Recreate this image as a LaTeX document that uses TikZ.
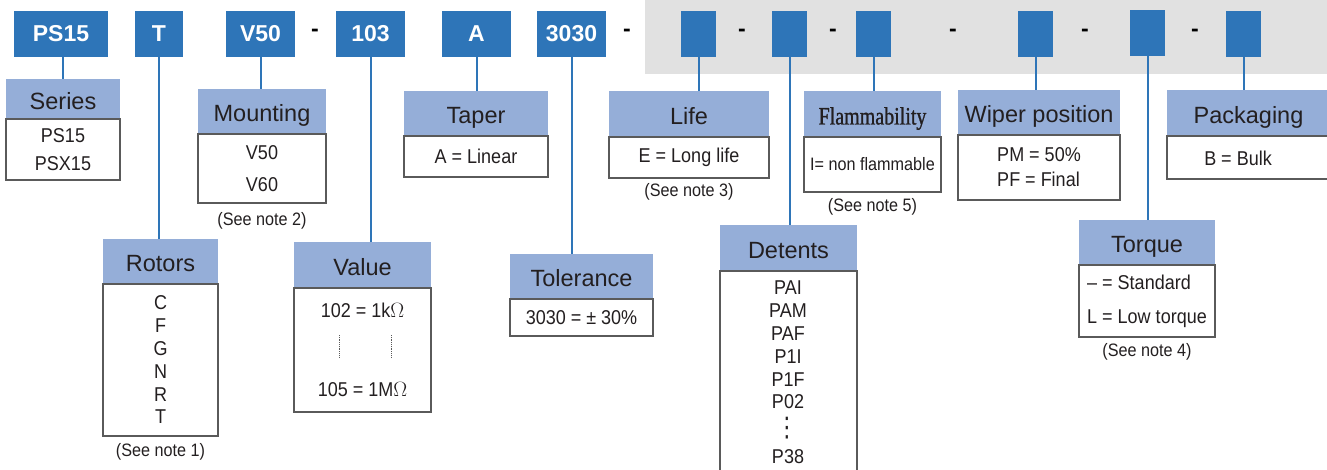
\documentclass[tikz,border=0pt]{standalone}
\usepackage{fontspec}
\setmainfont{Liberation Sans}
\newfontfamily\narrowfont[FakeStretch=0.9]{Liberation Sans}
\newfontfamily\flamfont[FakeStretch=0.8,FakeBold=1]{Liberation Serif}
\newfontfamily\symfont[FakeStretch=0.8]{DejaVu Sans}
\usetikzlibrary{positioning}
\definecolor{codeblue}{HTML}{2E75B8}
\definecolor{headblue}{HTML}{95AED8}
\definecolor{bandgray}{HTML}{E1E1E1}
\definecolor{boxgray}{HTML}{5A5A5A}
\definecolor{inkgray}{HTML}{231F20}

\begin{document}
\begin{tikzpicture}[x=1pt,y=-1pt,
	codebox/.style={fill=codeblue,text=white,font=\bfseries\fontsize{23}{23}\selectfont,minimum height=46pt,inner sep=0pt,outer sep=0pt},
	sepmark/.style={text=black,font=\bfseries\fontsize{23}{23}\selectfont,inner sep=0pt,anchor=base},
	headbox/.style={fill=headblue,text=inkgray,font=\fontsize{23.5}{23.5}\selectfont,minimum height=45pt,inner sep=0pt,outer sep=0pt,text height=21pt,text depth=0pt},
	bodybox/.style={draw=boxgray,line width=1.2pt,fill=white,text=inkgray,font=\narrowfont\fontsize{20}{22.8}\selectfont,align=center,inner sep=0pt,outer sep=0pt},
	bodytext/.style={text=inkgray,font=\narrowfont\fontsize{20}{22.8}\selectfont,align=center,inner sep=0pt},
	notetext/.style={text=inkgray,font=\narrowfont\fontsize{18}{18}\selectfont,inner sep=0pt},
	linkline/.style={draw=codeblue,line width=2pt}]
	\useasboundingbox (0,0) rectangle (1327,470);
	\fill[bandgray] (645,0) rectangle (1327,74);

	% part number
	\node[codebox,minimum width=94pt] (ps) at (61,34) {PS15};
	\node[codebox,minimum width=48pt] (t) at (159,34) {T};
	\node[codebox,minimum width=69pt] (v) at (260.5,34) {V50};
	\node[codebox,minimum width=69pt] (ohm) at (370.5,34) {103};
	\node[codebox,minimum width=69pt] (a) at (476.5,34) {A};
	\node[codebox,minimum width=69pt] (tol) at (571.5,34) {3030};
	\foreach \n/\x in {lifebox/698.5,detbox/789.5,flambox/873.5,wipbox/1035.5,packbox/1243.5}
		\node[codebox,minimum width=35pt] (\n) at (\x,34) {};
	\node[codebox,minimum width=35pt] (torbox) at (1147.5,33) {};
	\foreach \x [count=\i] in {315,627,742,833,953,1085,1195}
		\node[sepmark] (sep\i) at (\x,37) {-};

	% fields
	\node[headbox,minimum width=114pt,minimum height=40pt] (series) at (63,99) {Series};
	\node[bodybox,minimum width=114pt,minimum height=61pt,below=0pt of series] (seriesbody) {PS15\\[5pt]PSX15};

	\node[headbox,minimum width=115pt] (rotors) at (160.5,261.5) {Rotors};
	\node[bodybox,minimum width=115pt,minimum height=152pt,below=0pt of rotors] (rotorsbody) {C\\F\\G\\N\\R\\T};
	\node[notetext,below=7pt of rotorsbody] (note1) {(See note 1)};

	\node[headbox,minimum width=128pt] (mount) at (262,111.5) {Mounting};
	\node[bodybox,minimum width=128pt,minimum height=69pt,below=0pt of mount] (mountbody) {V50\\[9pt]V60};
	\node[notetext,below=9pt of mountbody] (note2) {(See note 2)};

	\node[headbox,minimum width=137pt,minimum height=46pt] (value) at (362.5,265) {Value};
	\node[bodybox,minimum width=137pt,minimum height=124pt,below=0pt of value] (valuebody) {102 = 1k$\Omega$\\[56pt]105 = 1M$\Omega$};
	\draw[boxgray,line width=0.8pt,densely dotted] (339,335) -- (339,358);
	\draw[boxgray,line width=0.8pt,densely dotted] (391,335) -- (391,358);

	\node[headbox,minimum width=144pt] (taper) at (476,113.5) {Taper};
	\node[bodybox,minimum width=144pt,minimum height=41pt,below=0pt of taper] (taperbody) {A = Linear};

	\node[headbox,minimum width=143pt] (tolerance) at (581.5,276.5) {Tolerance};
	\node[bodybox,minimum width=143pt,minimum height=37pt,below=0pt of tolerance] (tolerancebody) {3030 = ± 30\%};

	\node[headbox,minimum width=160pt,minimum height=46pt] (life) at (689,114) {Life};
	\node[bodybox,minimum width=160pt,minimum height=41pt,below=0pt of life] (lifebody) {E = Long life};
	\node[notetext,below=5pt of lifebody] (note3) {(See note 3)};

	\node[headbox,minimum width=137pt,minimum height=46pt] (detents) at (788.5,248) {Detents};
	\node[bodybox,minimum width=137pt,minimum height=210pt,below=0pt of detents] (detentsbody) {};
	\node[bodytext,anchor=north] (detlist) at (788,281) {PAI\\PAM\\PAF\\P1I\\P1F\\P02};
	\node[bodytext,font=\symfont\fontsize{27}{27}\selectfont] (detdots) at (787,428) {⋮};
	\node[bodytext] (detlast) at (788,457) {P38};

	\node[headbox,minimum width=137pt,minimum height=46pt,font=\flamfont\fontsize{25}{25}\selectfont] (flam) at (872.5,114) {Flammability};
	\node[bodybox,minimum width=137pt,minimum height=55pt,below=0pt of flam,font=\narrowfont\fontsize{18}{18}\selectfont] (flambody) {I= non flammable};
	\node[notetext,below=6pt of flambody] (note5) {(See note 5)};

	\node[headbox,minimum width=162pt] (wiper) at (1039,112.5) {Wiper position};
	\node[bodybox,minimum width=162pt,minimum height=65pt,below=0pt of wiper,align=left] (wiperbody) {PM = 50\%\\[2.2pt]PF = Final};

	\node[headbox,minimum width=136pt] (torque) at (1147,242.5) {Torque};
	\node[bodybox,minimum width=136pt,minimum height=72pt,below=0pt of torque,align=left] (torquebody) {– = Standard\\[11.2pt]L = Low torque};
	\node[notetext,below=6pt of torquebody] (note4) {(See note 4)};

	\node[headbox,minimum width=163pt,minimum height=46pt] (pack) at (1248.5,113) {Packaging};
	\node[bodybox,minimum width=163pt,minimum height=43pt,below=0pt of pack] (packbody) {};
	\node[bodytext] (packtext) at (1238,158) {B = Bulk};

	% connectors
	\draw[linkline] (series.north |- ps.south) -- (series.north);
	\foreach \a/\b in {t/rotors,v/mount,ohm/value,a/taper,tol/tolerance,lifebox/life,detbox/detents,flambox/flam,wipbox/wiper,torbox/torque,packbox/pack}
		\draw[linkline] (\a.south) -- (\a.south |- \b.north);
\end{tikzpicture}
\end{document}
